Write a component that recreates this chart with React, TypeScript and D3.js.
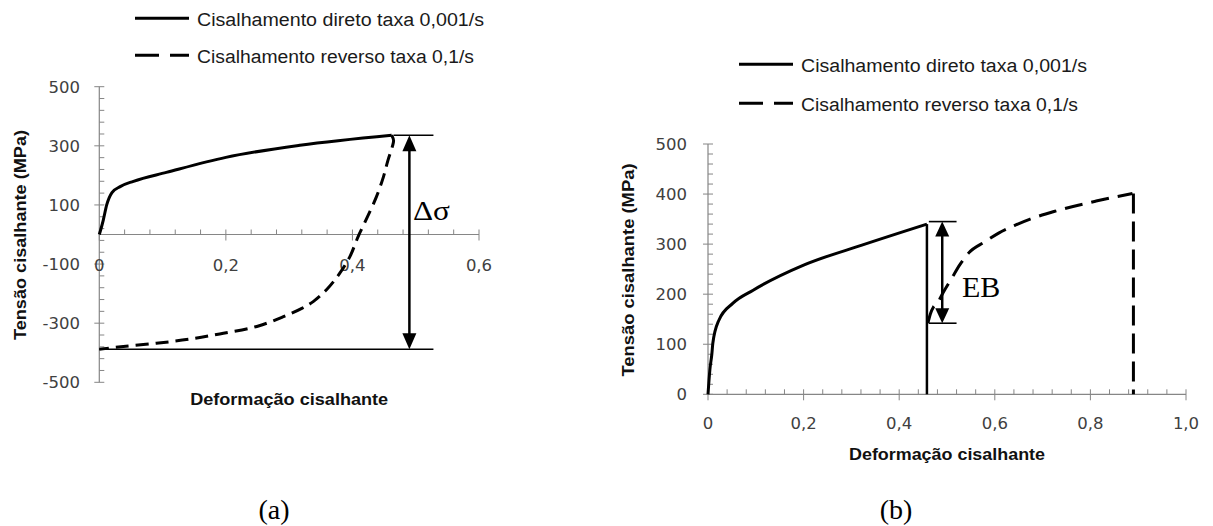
import React, { useEffect, useRef } from 'react'
import * as d3 from 'd3'

const W = 1213
const H = 526

// (a) cisalhamento direto / reverso
const diretoA_def = [0, 0.003, 0.0063, 0.0117, 0.02, 0.033, 0.054, 0.106, 0.2, 0.317, 0.462]
const diretoA_tens = [0, 22, 49, 100, 142, 162, 180, 210, 261, 302, 336]
const reversoA_def = [0.462, 0.465, 0.463, 0.456, 0.449, 0.438, 0.419, 0.409, 0.396, 0.38, 0.359, 0.338, 0.32, 0.291, 0.249, 0.196, 0.143, 0.09, 0.038, 0]
const reversoA_tens = [336, 318, 297, 250, 195, 128, 38, -7, -75, -131, -187, -227, -250, -278, -311, -334, -354, -368, -379, -388]
// linhas de referencia do delta sigma
const deltaA_def = [0.465, 0.49, 0.528]
const deltaA_tens = [336, -388]

// (b)
const diretoB_def = [0, 0.004, 0.008, 0.0101, 0.0228, 0.0523, 0.0945, 0.2, 0.322, 0.458]
const diretoB_tens = [0, 50, 80, 102, 148, 182, 208, 258, 298, 340]
const reversoB_def = [0.46, 0.465, 0.472, 0.48, 0.49, 0.51, 0.527, 0.545, 0.58, 0.608, 0.643, 0.674, 0.727, 0.812, 0.888]
const reversoB_tens = [142, 160, 175, 182, 200, 232, 259, 282, 305, 322, 338, 350, 366, 386, 401]
const ebB_def = [0.462, 0.49, 0.52]
const ebB_tens = [345, 142]

const xTicksA = [0, 0.2, 0.4, 0.6]
const yTicksA = [-500, -300, -100, 100, 300, 500]
const xTicksB = [0, 0.2, 0.4, 0.6, 0.8, 1.0]
const yTicksB = [0, 100, 200, 300, 400, 500]

const legendLabels = ['Cisalhamento direto taxa 0,001/s', 'Cisalhamento reverso taxa 0,1/s']

const fmtX = (v: number) => (v === 0 ? '0' : d3.format('.1f')(v).replace('.', ','))

function drawAxes(g: any, x: any, y: any, cfg: any) {
  const axisColor = '#868686'
  const x0 = x(0)
  const y0 = y(0)
  // eixo y
  g.append('line').attr('x1', x0).attr('x2', x0)
    .attr('y1', y(cfg.yMin)).attr('y2', y(cfg.yMax))
    .attr('stroke', axisColor).attr('stroke-width', 1.2)
  // eixo x
  g.append('line').attr('x1', x0).attr('x2', x(cfg.xMax))
    .attr('y1', y0).attr('y2', y0)
    .attr('stroke', axisColor).attr('stroke-width', 1.2)

  const isMajor = (v: number, step: number) => Math.abs(v / step - Math.round(v / step)) < 1e-6

  d3.range(cfg.yMin, cfg.yMax + 1e-6, cfg.yMinor).forEach((v: number) => {
    const major = cfg.yTicks.some((t: number) => Math.abs(t - v) < 1e-6)
    g.append('line').attr('x1', major ? x0 - 5 : x0).attr('x2', x0 + 5)
      .attr('y1', y(v)).attr('y2', y(v))
      .attr('stroke', axisColor).attr('stroke-width', 1)
  })
  d3.range(0, cfg.xMax + 1e-6, 0.04).forEach((v: number) => {
    const major = isMajor(v, 0.2)
    if (v === 0) {
      g.append('line').attr('x1', x0).attr('x2', x0).attr('y1', y0).attr('y2', y0 + 6)
        .attr('stroke', axisColor).attr('stroke-width', 1)
      return
    }
    g.append('line').attr('x1', x(v)).attr('x2', x(v))
      .attr('y1', y0 - 5).attr('y2', major ? y0 + 6 : y0)
      .attr('stroke', axisColor).attr('stroke-width', 1)
  })

  g.selectAll('.ylab').data(cfg.yTicks).enter().append('text')
    .attr('x', cfg.yLabelX).attr('y', (d: number) => y(d) + 6)
    .attr('text-anchor', 'end')
    .attr('font-family', 'DejaVu Sans').attr('font-size', 16.5).attr('fill', '#404040')
    .text((d: number) => d)
  g.selectAll('.xlab').data(cfg.xTicks).enter().append('text')
    .attr('x', (d: number) => x(d)).attr('y', cfg.xLabelY)
    .attr('text-anchor', 'middle')
    .attr('font-family', 'DejaVu Sans').attr('font-size', 16.5).attr('fill', '#404040')
    .text((d: number) => fmtX(d))

  // titulos
  g.append('text')
    .attr('x', (x0 + x(cfg.xMax)) / 2).attr('y', cfg.xTitleY)
    .attr('text-anchor', 'middle')
    .attr('font-family', 'Liberation Sans').attr('font-weight', 'bold').attr('font-size', 16)
    .attr('textLength', cfg.xTitleLen).attr('lengthAdjust', 'spacingAndGlyphs')
    .attr('fill', '#111')
    .text('Deformação cisalhante')
  g.append('text')
    .attr('transform', `translate(${cfg.yTitleX},${cfg.yTitleCY}) rotate(-90)`)
    .attr('text-anchor', 'middle')
    .attr('font-family', 'Liberation Sans').attr('font-weight', 'bold').attr('font-size', 16)
    .attr('textLength', cfg.yTitleLen).attr('lengthAdjust', 'spacingAndGlyphs')
    .attr('fill', '#111')
    .text('Tensão cisalhante  (MPa)')
}

function drawLegend(g: any, lx: number, ly: number, gap: number, tx: number, lens: number[]) {
  legendLabels.forEach((lab, i) => {
    const yy = ly + i * gap
    g.append('line').attr('x1', lx).attr('x2', lx + 54).attr('y1', yy).attr('y2', yy)
      .attr('stroke', '#000').attr('stroke-width', 3)
      .attr('stroke-dasharray', i === 1 ? '24,11' : null)
    g.append('text').attr('x', tx).attr('y', yy + 8)
      .attr('font-family', 'Liberation Sans').attr('font-size', 18).attr('fill', '#1a1a1a')
      .attr('textLength', lens[i]).attr('lengthAdjust', 'spacingAndGlyphs')
      .text(lab)
  })
}

function doubleArrow(g: any, x: number, y1: number, y2: number, hw: number, hh: number) {
  g.append('line').attr('x1', x).attr('x2', x).attr('y1', y1 + hh - 2).attr('y2', y2 - hh + 2)
    .attr('stroke', '#000').attr('stroke-width', 2.5)
  g.append('path').attr('d', `M${x},${y1}L${x - hw},${y1 + hh}L${x + hw},${y1 + hh}Z`).attr('fill', '#000')
  g.append('path').attr('d', `M${x},${y2}L${x - hw},${y2 - hh}L${x + hw},${y2 - hh}Z`).attr('fill', '#000')
}

export default function App() {
  const ref = useRef<SVGSVGElement>(null)

  useEffect(() => {
    const svg = d3.select(ref.current)
    svg.selectAll('*').remove()

    // ---------- (a) ----------
    const xA = d3.scaleLinear().domain([0, 0.6]).range([99.3, 479])
    const yA = d3.scaleLinear().domain([-500, 500]).range([382.3, 86.7])
    const gA = svg.append('g')
    drawAxes(gA, xA, yA, {
      yMin: -500, yMax: 500, yMinor: 40, xMax: 0.6,
      yTicks: yTicksA, xTicks: xTicksA,
      yLabelX: 80, xLabelY: 271,
      xTitleY: 405, xTitleLen: 198,
      yTitleX: 26, yTitleCY: 235, yTitleLen: 210
    })

    const lineA = d3.line<number>().x((d, i) => xA(diretoA_def[i])).y((d) => yA(d)).curve(d3.curveMonotoneX)
    gA.append('path').attr('d', lineA(diretoA_tens))
      .attr('fill', 'none').attr('stroke', '#000').attr('stroke-width', 3)
    const revA = d3.line<number>().x((d, i) => xA(reversoA_def[i])).y((d) => yA(d)).curve(d3.curveCatmullRom)
    gA.append('path').attr('d', revA(reversoA_tens))
      .attr('fill', 'none').attr('stroke', '#000').attr('stroke-width', 3)
      .attr('stroke-dasharray', '13,7')

    // linhas de referencia
    gA.append('line').attr('x1', xA(deltaA_def[0])).attr('x2', xA(deltaA_def[2]))
      .attr('y1', yA(deltaA_tens[0])).attr('y2', yA(deltaA_tens[0]))
      .attr('stroke', '#000').attr('stroke-width', 1.6)
    gA.append('line').attr('x1', xA(0)).attr('x2', xA(deltaA_def[2]))
      .attr('y1', yA(deltaA_tens[1])).attr('y2', yA(deltaA_tens[1]))
      .attr('stroke', '#000').attr('stroke-width', 1.6)
    doubleArrow(gA, xA(deltaA_def[1]), yA(deltaA_tens[0]), yA(deltaA_tens[1]), 7, 16)
    gA.append('text').attr('x', 413).attr('y', 220)
      .attr('font-family', 'Liberation Serif').attr('font-size', 28)
      .attr('textLength', 37).attr('lengthAdjust', 'spacingAndGlyphs')
      .text('Δσ')

    drawLegend(gA, 135, 18.3, 37, 197, [287, 277])

    // ---------- (b) ----------
    const xB = d3.scaleLinear().domain([0, 1]).range([708, 1186])
    const yB = d3.scaleLinear().domain([0, 500]).range([394.3, 144])
    const gB = svg.append('g')
    drawAxes(gB, xB, yB, {
      yMin: 0, yMax: 500, yMinor: 20, xMax: 1,
      yTicks: yTicksB, xTicks: xTicksB,
      yLabelX: 687, xLabelY: 429,
      xTitleY: 460, xTitleLen: 196,
      yTitleX: 634, yTitleCY: 270, yTitleLen: 213
    })

    const lineB = d3.line<number>().x((d, i) => xB(diretoB_def[i])).y((d) => yB(d)).curve(d3.curveMonotoneX)
    gB.append('path').attr('d', lineB(diretoB_tens))
      .attr('fill', 'none').attr('stroke', '#000').attr('stroke-width', 3)
    const lastD = diretoB_def[diretoB_def.length - 1]
    gB.append('line').attr('x1', xB(lastD)).attr('x2', xB(lastD))
      .attr('y1', yB(diretoB_tens[diretoB_tens.length - 1])).attr('y2', yB(0))
      .attr('stroke', '#000').attr('stroke-width', 2.5)

    const revB = d3.line<number>().x((d, i) => xB(reversoB_def[i])).y((d) => yB(d)).curve(d3.curveMonotoneX)
    gB.append('path').attr('d', revB(reversoB_tens))
      .attr('fill', 'none').attr('stroke', '#000').attr('stroke-width', 3)
      .attr('stroke-dasharray', '18,9')
    const lastR = reversoB_def[reversoB_def.length - 1]
    gB.append('line').attr('x1', xB(lastR + 0.002)).attr('x2', xB(lastR + 0.002))
      .attr('y1', yB(reversoB_tens[reversoB_tens.length - 1])).attr('y2', yB(0))
      .attr('stroke', '#000').attr('stroke-width', 3)
      .attr('stroke-dasharray', '20,8')

    gB.append('line').attr('x1', xB(ebB_def[0])).attr('x2', xB(ebB_def[2]))
      .attr('y1', yB(ebB_tens[0])).attr('y2', yB(ebB_tens[0]))
      .attr('stroke', '#000').attr('stroke-width', 1.6)
    gB.append('line').attr('x1', xB(ebB_def[0])).attr('x2', xB(ebB_def[2]))
      .attr('y1', yB(ebB_tens[1])).attr('y2', yB(ebB_tens[1]))
      .attr('stroke', '#000').attr('stroke-width', 1.6)
    doubleArrow(gB, xB(ebB_def[1]), yB(ebB_tens[0]), yB(ebB_tens[1]), 7, 15)
    gB.append('text').attr('x', 962).attr('y', 297)
      .attr('font-family', 'Liberation Serif').attr('font-size', 30)
      .text('EB')

    drawLegend(gB, 739, 64.3, 39, 801, [286, 277])

    // legendas (a) e (b)
    svg.append('text').attr('x', 274).attr('y', 519).attr('text-anchor', 'middle')
      .attr('font-family', 'Liberation Serif').attr('font-size', 28).text('(a)')
    svg.append('text').attr('x', 896).attr('y', 519).attr('text-anchor', 'middle')
      .attr('font-family', 'Liberation Serif').attr('font-size', 28).text('(b)')
  }, [])

  return (
    <svg ref={ref} width={W} height={H}
      style={{ position: 'absolute', left: 0, top: 0, background: '#fff', display: 'block' }} />
  )
}
